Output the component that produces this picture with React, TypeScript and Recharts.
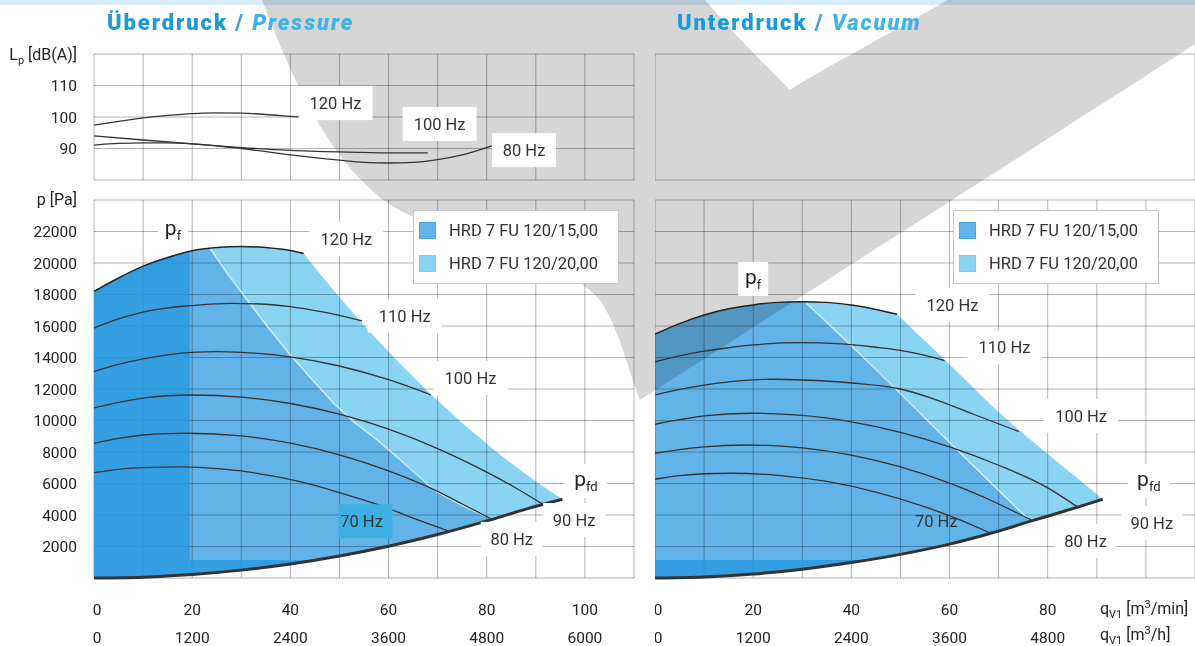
import React from "react";
import {
  Area,
  CartesianGrid,
  ComposedChart,
  Line,
  ReferenceDot,
  XAxis,
  YAxis,
} from "recharts";

// ---------- axes ----------
const xTicks = [0, 10, 20, 30, 40, 50, 60, 70, 80, 90, 100, 110];
const paTicks = [0, 2000, 4000, 6000, 8000, 10000, 12000, 14000, 16000, 18000, 20000, 22000, 24000];
const dbTicks = [80, 90, 100, 110, 120];

// ---------- pressure side (Überdruck) ----------
const prLp120 = [[0, 97.4], [5, 98.6], [10, 99.7], [15, 100.5], [20, 101.1], [25, 101.3], [30, 101.2], [35, 100.8], [40, 100.2], [42.6, 99.9]];
const prLp100 = [[0, 94.0], [10, 92.7], [20, 91.5], [30, 90.3], [40, 89.4], [50, 88.9], [60, 88.6], [68, 88.6]];
const prLp80 = [[0, 91.1], [5, 91.6], [10, 91.8], [15, 91.8], [20, 91.5], [30, 90.0], [40, 88.0], [50, 86.3], [55, 85.6], [60, 85.4], [65, 85.6], [70, 86.5], [75, 88.0], [80, 90.3], [81, 90.8]];

const prPf = [[0, 18200], [5, 19050], [10, 19800], [15, 20350], [20, 20780], [25, 20980], [30, 21050], [35, 20980], [40, 20800], [42.7, 20600]];
const pr110 = [[0, 15870], [5, 16450], [10, 16880], [15, 17150], [20, 17300], [28, 17440], [35, 17380], [40, 17230], [45, 16980], [50, 16680], [54.6, 16320]];
const pr100 = [[0, 13100], [5, 13560], [10, 13910], [15, 14170], [20, 14320], [25, 14370], [30, 14330], [40, 14040], [50, 13460], [60, 12590], [65, 12050], [68.6, 11620]];
const pr90 = [[0, 10800], [5, 11150], [10, 11420], [15, 11570], [20, 11620], [30, 11480], [40, 11080], [50, 10400], [60, 9450], [70, 8220], [80, 6720], [86, 5700], [91.4, 4690]];
const pr80 = [[0, 8550], [5, 8870], [10, 9080], [15, 9170], [19, 9190], [30, 9020], [40, 8560], [50, 7820], [60, 6800], [70, 5500], [75, 4700], [81.1, 3720]];
const pr70 = [[0, 6690], [5, 6900], [10, 7010], [18, 7050], [25, 6950], [30, 6800], [35, 6550], [42, 6115], [50, 5420], [58.4, 4600], [65, 3800], [72.3, 2980]];
const prSystem = [[0, 0], [10, 55], [20, 225], [30, 500], [40, 890], [50, 1400], [60, 2020], [70, 2760], [81.1, 3720], [88, 4375], [95.4, 5000]];
// limit line between the two drive sizes
const prLimit15 = [[23.7, 20900], [27, 19400], [31.2, 17650], [36, 15700], [40, 14160], [44, 12750], [48.8, 11090], [53, 9900], [57.7, 8760], [62.4, 7490], [69.2, 5590], [75, 4600], [81.1, 3720]];

// [x, low, high]
const prField15 = [[0, 0, 18200], [5, 14, 19050], [10, 55, 19800], [15, 125, 20350], [20, 225, 20780], [23.7, 310, 20900], [27, 400, 19400], [31.2, 535, 17650], [36, 715, 15700], [40, 890, 14160], [44, 1070, 12750], [48.8, 1310, 11090], [53, 1550, 9900], [57.7, 1830, 8760], [62.4, 2150, 7490], [69.2, 2690, 5590], [75, 3200, 4600], [81.1, 3720, 3720]];
const prField20 = [[23.7, 20900, 20900], [27, 19400, 21000], [31.2, 17650, 21040], [36, 15700, 20960], [40, 14160, 20800], [42.7, 13200, 20600], [48.8, 11090, 18260], [53, 9900, 16740], [57.7, 8760, 15120], [62.4, 7490, 13580], [67.2, 6050, 12090], [69.2, 5590, 11490], [75, 4600, 9840], [81.1, 3720, 8240], [84.5, 4030, 7400], [88, 4375, 6580], [91.5, 4690, 5810], [95.4, 5000, 5000]];
const prDarkLeft = [[0, 0, 18200], [5, 14, 19050], [10, 55, 19800], [15, 125, 20350], [19.5, 215, 20750]];
const prDarkBottom = [[19.5, 215, 1150], [25, 345, 1150], [30, 500, 1150], [35, 680, 1150], [40, 890, 1150], [45.5, 1150, 1150]];

// ---------- vacuum side (Unterdruck) ----------
const vaPf = [[0, 15480], [5, 16150], [10, 16700], [15, 17100], [20, 17340], [25, 17500], [30, 17545], [35, 17500], [40, 17330], [45, 17050], [49.3, 16750]];
const va110 = [[0, 13730], [5, 14100], [10, 14400], [15, 14620], [20, 14800], [30, 14940], [37, 14880], [45, 14650], [50, 14450], [55, 14130], [59, 13800]];
const va100 = [[0, 11620], [5, 11970], [10, 12250], [15, 12450], [20, 12580], [24, 12620], [30, 12570], [40, 12380], [50, 12000], [56, 11450], [65, 10380], [74.1, 9300]];
const va90 = [[0, 9760], [5, 10050], [10, 10300], [19.4, 10460], [30, 10320], [40, 9910], [50, 9250], [60, 8330], [70, 7160], [80, 5720], [86.1, 4500]];
const va80 = [[0, 7920], [5, 8150], [10, 8330], [18.7, 8445], [30, 8260], [40, 7800], [50, 7050], [60, 6020], [70, 4700], [76.9, 3640]];
const va70 = [[0, 6270], [5, 6500], [10, 6620], [15.3, 6650], [25, 6520], [35, 6130], [45, 5460], [55, 4520], [62, 3700], [68.4, 2840]];
const vaSystem = [[0, 0], [10, 65], [20, 250], [30, 560], [40, 980], [50, 1500], [60, 2150], [68.4, 2840], [76.9, 3640], [86.1, 4500], [91.2, 5000]];
const vaLimit15 = [[30.5, 17545], [40, 14750], [50, 11700], [60, 8600], [70, 5550], [76.5, 3600]];

const vaField15 = [[0, 0, 15480], [5, 15, 16150], [10, 65, 16700], [15, 140, 17100], [20, 250, 17340], [25, 380, 17500], [30.5, 560, 17545], [40, 980, 14750], [50, 1500, 11700], [60, 2150, 8600], [70, 2940, 5550], [76.5, 3600, 3600]];
const vaField20 = [[30.5, 17545, 17545], [35, 16180, 17500], [40, 14750, 17330], [45, 13150, 17050], [49.3, 11850, 16745], [55, 10120, 15050], [60, 8600, 13550], [65, 7090, 12030], [69.1, 5850, 10800], [74.6, 4180, 9270], [76.5, 3600, 8780], [80, 3840, 7880], [86.1, 4450, 6320], [91.2, 5000, 5000]];
const vaDarkBottom = [[0, 0, 1150], [10, 65, 1150], [20, 250, 1150], [30, 560, 1150], [40, 980, 1150], [43.5, 1150, 1150]];

const legendItems = ["HRD 7 FU 120/15,00", "HRD 7 FU 120/20,00"];

const BLUE_15 = "#46a7e4";
const BLUE_20 = "#74cbf1";
const BLUE_DARK = "#2b9adf";
const INK = "#333333";
const GRID = "#b4b4b4";
const FONT = "Roboto, 'Noto Sans', sans-serif";

const pts = (rows: number[][]) => rows.map(([x, y]) => ({ x, y }));
const band = (rows: number[][]) => rows.map(([x, lo, hi]) => ({ x, r: [lo, hi] }));

function HzLabel(props: any) {
  const { cx, cy, text, sub, w = 74, bg = "#ffffff", box = true, boxDx = 0 } = props;
  if (cx == null || cy == null) return null;
  return (
    <g>
      {box && <rect x={cx + boxDx - w / 2} y={cy - 17} width={w} height={34} fill={bg} />}
      {sub ? (
        <text x={cx} y={cy} textAnchor="middle" dy="0.3em" fontFamily={FONT} fill="#222">
          <tspan fontSize={21}>{text}</tspan>
          <tspan fontSize={13} dy={5}>{sub}</tspan>
        </text>
      ) : (
        <text x={cx} y={cy} textAnchor="middle" dy="0.355em" fontSize={16.5} fontFamily={FONT} fill="#333">
          {text}
        </text>
      )}
    </g>
  );
}

const label = (x: number, y: number, text: string, opts: any = {}) => (
  <ReferenceDot
    key={text + x}
    x={x}
    y={y}
    r={0}
    ifOverflow="visible"
    shape={(p: any) => <HzLabel cx={p.cx} cy={p.cy} text={text} {...opts} />}
  />
);

function XTick(props: any) {
  const { x, y, payload, skip } = props;
  const v = payload.value;
  if (v % 20 !== 0 || skip.includes(v)) return null;
  const dx = v === 0 ? 3 : 0;
  return (
    <g fontFamily={FONT} fontSize={15.5} fill="#222">
      <text x={x + dx} y={y + 31} textAnchor="middle" dy="0.355em">{v}</text>
      <text x={x + dx} y={y + 59} textAnchor="middle" dy="0.355em">{v * 60}</text>
    </g>
  );
}

function YTick(props: any) {
  const { x, y, payload, show } = props;
  if (!show.includes(payload.value)) return null;
  return (
    <text x={x} y={y} textAnchor="end" dy="0.355em" fontFamily={FONT} fontSize={15.5} fill="#222">
      {payload.value}
    </text>
  );
}

function LegendBox({ left }: { left: number }) {
  return (
    <div
      style={{
        position: "absolute", left, top: 210, width: 206, height: 74, boxSizing: "border-box",
        background: "#fff", border: "1px solid #c6c6c6", fontFamily: FONT, fontSize: 16.5, color: "#333",
      }}
    >
      {legendItems.map((name, i) => (
        <div key={name} style={{ position: "absolute", left: 5, top: 10 + i * 33, display: "flex", alignItems: "center", whiteSpace: "nowrap" }}>
          <span style={{ width: 15, height: 15, background: i === 0 ? "#62b4e8" : "#89d3f3", border: `1px solid ${i === 0 ? "#4aa6e2" : "#7dcdf0"}`, marginRight: 13 }} />
          <span>{name}</span>
        </div>
      ))}
    </div>
  );
}

function TopChart({ left, withAxis, children }: any) {
  return (
    <div style={{ position: "absolute", left, top: 40 }}>
      <ComposedChart width={withAxis ? 640 : 541} height={141} margin={{ top: 14, right: withAxis ? 6 : 1, bottom: 1, left: 0 }}>
        <CartesianGrid stroke={GRID} />
        <XAxis type="number" dataKey="x" domain={[0, 110]} ticks={xTicks} hide />
        <YAxis
          type="number" domain={[80, 120]} ticks={dbTicks} width={94} hide={!withAxis}
          axisLine={false} tickLine={false} tickSize={0} tickMargin={17}
          tick={<YTick show={[90, 100, 110]} />}
        />
        {children}
      </ComposedChart>
    </div>
  );
}

function BottomChart({ left, withAxis, skip, children }: any) {
  return (
    <div style={{ position: "absolute", left, top: 190 }}>
      <ComposedChart width={withAxis ? 640 : 541} height={456} margin={{ top: 10, right: withAxis ? 6 : 1, bottom: 0, left: 0 }}>
        <CartesianGrid stroke={GRID} />
        <XAxis
          type="number" dataKey="x" domain={[0, 110]} ticks={xTicks} height={68}
          axisLine={false} tickLine={false} tickSize={0} tickMargin={0} interval={0}
          tick={<XTick skip={skip} />}
        />
        <YAxis
          type="number" domain={[0, 24000]} ticks={paTicks} width={94} hide={!withAxis}
          axisLine={false} tickLine={false} tickSize={0} tickMargin={17} interval={0}
          tick={<YTick show={paTicks.filter((t) => t > 0 && t < 24000)} />}
        />
        {children}
      </ComposedChart>
    </div>
  );
}

const field = (rows: number[][], fill: string, key: string, blend = true) => (
  <Area
    key={key}
    className={blend ? "blend" : undefined}
    data={band(rows)}
    dataKey="r"
    type="linear"
    fill={fill}
    fillOpacity={0.85}
    stroke="none"
    isAnimationActive={false}
    activeDot={false}
    dot={false}
  />
);

const curve = (rows: number[][], key: string, width = 1.3, color = INK, type: any = "monotone") => (
  <Line
    key={key}
    data={pts(rows)}
    dataKey="y"
    type={type}
    stroke={color}
    strokeWidth={width}
    dot={false}
    activeDot={false}
    isAnimationActive={false}
  />
);

export default function App() {
  return (
    <div style={{ position: "absolute", left: 0, top: 0, width: 1195, height: 646, background: "#fff", overflow: "hidden" }}>
      <style>{`
        .blend .recharts-area-area, .recharts-cartesian-grid line { mix-blend-mode: multiply; }
      `}</style>
      {/* faint logo watermark behind the charts */}
      <svg width={1195} height={646} style={{ position: "absolute", left: 0, top: 0 }}>
        <path
          d="M262,0 C300,100 335,165 390,205 C470,250 560,255 600,300 C620,330 628,370 640,400 L1264,0 L947,0 C880,40 820,70 790,90 C760,60 730,30 705,0 Z"
          fill="#d6d6d6"
        />
      </svg>
      <div style={{ position: "absolute", left: 0, top: 0, width: 1195, height: 5, background: "#d8ecfa", mixBlendMode: "multiply" }} />

      {/* titles */}
      <div style={{ position: "absolute", left: 107, top: 10, fontFamily: FONT, fontWeight: 900, fontSize: 22, letterSpacing: 1.9, color: "#1b9ad6", whiteSpace: "nowrap" }}>
        Überdruck <span style={{ color: "#4aa3d8" }}>/</span> <i style={{ color: "#3cb4ea" }}>Pressure</i>
      </div>
      <div style={{ position: "absolute", left: 677, top: 10, fontFamily: FONT, fontWeight: 900, fontSize: 22, letterSpacing: 1.9, color: "#1b9ad6", whiteSpace: "nowrap" }}>
        Unterdruck <span style={{ color: "#4aa3d8" }}>/</span> <i style={{ color: "#3cb4ea" }}>Vacuum</i>
      </div>

      <TopChart left={0} withAxis>
        {curve(prLp120, "lp120")}
        {curve(prLp100, "lp100")}
        {curve(prLp80, "lp80")}
        {label(49.2, 104.4, "120 Hz")}
        {label(70.4, 97.8, "100 Hz")}
        {label(87.6, 89.5, "80 Hz", { w: 64 })}
      </TopChart>
      <TopChart left={655} withAxis={false} />

      <BottomChart left={0} withAxis skip={[]}>
        {field(prField15, BLUE_15, "f15")}
        {field(prField20, BLUE_20, "f20")}
        {field(prDarkLeft, BLUE_DARK, "dl", false)}
        {field(prDarkBottom, BLUE_DARK, "db", false)}
        {curve(prLimit15, "lim", 1.5, "rgba(255,255,255,0.65)", "linear")}
        {curve(prPf, "pf", 1.5, "#222")}
        {curve(pr110, "110")}
        {curve(pr100, "100")}
        {curve(pr90, "90")}
        {curve(pr80, "80")}
        {curve(pr70, "70")}
        {curve(prSystem, "sys", 3, "#333")}
        {label(16.1, 22100, "p", { sub: "f", w: 30 })}
        {label(51.4, 21530, "120 Hz")}
        {label(63.3, 16640, "110 Hz")}
        {label(76.7, 12700, "100 Hz")}
        {label(97.8, 3680, "90 Hz", { w: 62 })}
        {label(85.1, 2480, "80 Hz", { w: 62 })}
        {label(54.5, 3600, "70 Hz", { w: 54, bg: "#3db0e3", boxDx: 4 })}
        {label(100.2, 6160, "p", { sub: "fd", w: 42 })}
      </BottomChart>

      <BottomChart left={655} withAxis={false} skip={[100]}>
        {field(vaField15, BLUE_15, "vf15")}
        {field(vaField20, BLUE_20, "vf20")}
        {field(vaDarkBottom, BLUE_DARK, "vdb", false)}
        {curve(vaLimit15, "vlim", 1.5, "rgba(255,255,255,0.65)", "linear")}
        {curve(vaPf, "vpf", 1.5, "#222")}
        {curve(va110, "v110")}
        {curve(va100, "v100")}
        {curve(va90, "v90")}
        {curve(va80, "v80")}
        {curve(va70, "v70")}
        {curve(vaSystem, "vsys", 3, "#333")}
        {label(20, 18990, "p", { sub: "f", w: 30 })}
        {label(60.6, 17340, "120 Hz")}
        {label(71.2, 14670, "110 Hz")}
        {label(86.8, 10290, "100 Hz")}
        {label(101.2, 3490, "90 Hz", { w: 62 })}
        {label(87.7, 2350, "80 Hz", { w: 62 })}
        {label(57.3, 3620, "70 Hz", { box: false })}
        {label(100.6, 6160, "p", { sub: "fd", w: 42 })}
      </BottomChart>

      {/* axis titles */}
      <svg width={1195} height={646} style={{ position: "absolute", left: 0, top: 0, pointerEvents: "none" }}>
        <g fontFamily={FONT} fontSize={16} fill="#222">
          <text x={77} y={60} textAnchor="end">
            L<tspan fontSize={11} dy={4}>p</tspan><tspan dy={-4}> [dB(A)]</tspan>
          </text>
          <text x={77} y={205} textAnchor="end">p [Pa]</text>
          <text x={1100} y={614}>
            q<tspan fontSize={11} dy={4}>V1</tspan><tspan dy={-4}> [m</tspan><tspan fontSize={11} dy={-6}>3</tspan><tspan dy={6}>/min]</tspan>
          </text>
          <text x={1100} y={640}>
            q<tspan fontSize={11} dy={4}>V1</tspan><tspan dy={-4}> [m</tspan><tspan fontSize={11} dy={-6}>3</tspan><tspan dy={6}>/h]</tspan>
          </text>
        </g>
      </svg>

      <LegendBox left={413} />
      <LegendBox left={953} />
    </div>
  );
}
